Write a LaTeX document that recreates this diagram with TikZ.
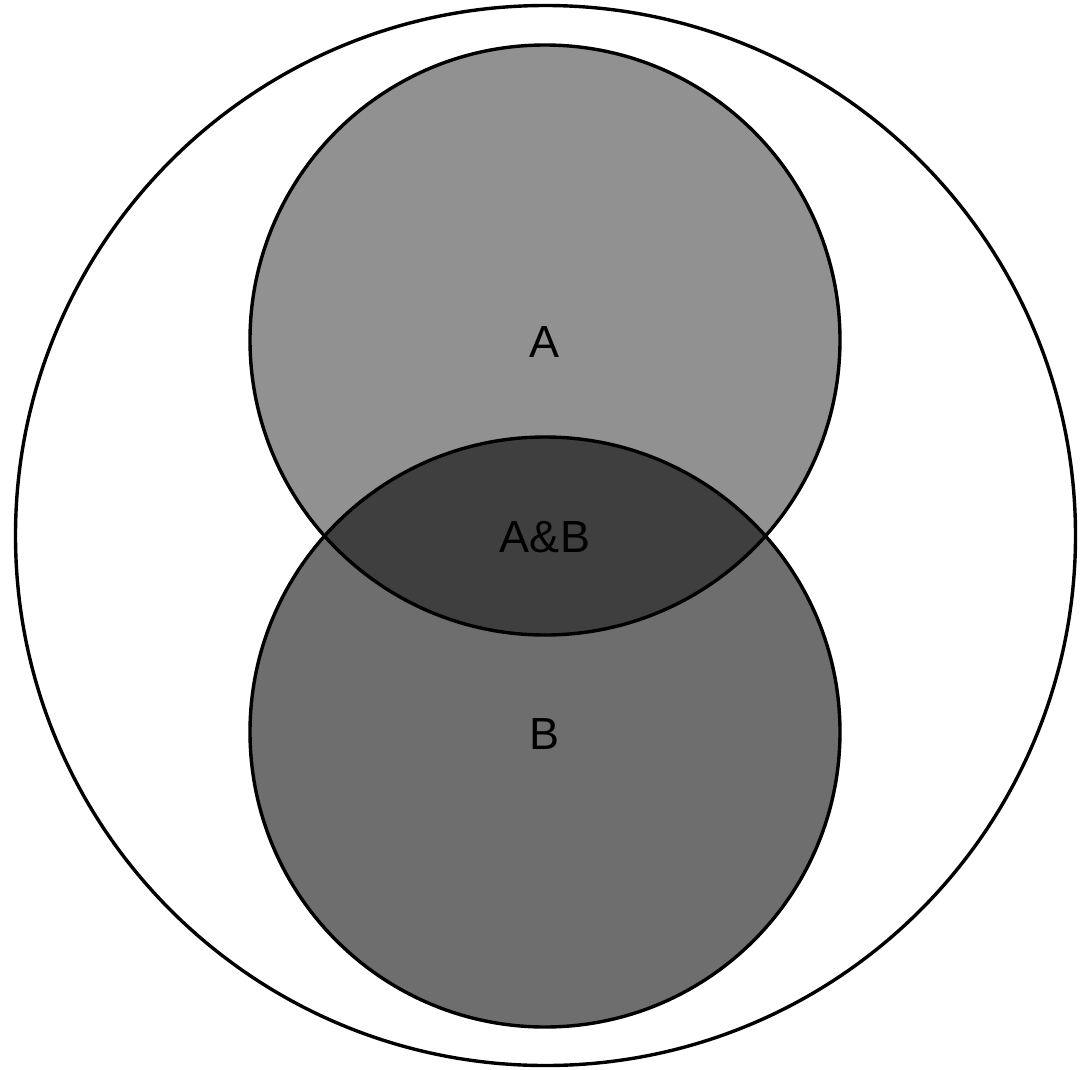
\documentclass[tikz,border=0pt]{standalone}
\usepackage{fontspec}
\setmainfont{Liberation Sans}
\begin{document}
\begin{tikzpicture}[x=1pt,y=-1pt,
  ring/.style={draw=black,line width=3.4pt},
  setlabel/.style={font=\fontsize{45}{54}\selectfont,inner sep=0pt,anchor=center}]
\useasboundingbox (0,0) rectangle (1090,1069);
% universe
\draw[ring] (545.5,535.5) circle (530);
% set A and set B
\fill[fill={rgb,255:red,145;green,145;blue,145}] (545,340) circle (295);
\fill[fill={rgb,255:red,110;green,110;blue,110}] (545,732) circle (295);
% overlap
\begin{scope}
  \clip (545,340) circle (295);
  \fill[fill={rgb,255:red,63;green,63;blue,63}] (545,732) circle (295);
\end{scope}
\draw[ring] (545,340) circle (295);
\draw[ring] (545,732) circle (295);
\node[setlabel] (a) at (545,342) {A};
\node[setlabel] (ab) at (545,537) {A\&B};
\node[setlabel] (b) at (545,734) {B};
\end{tikzpicture}
\end{document}
